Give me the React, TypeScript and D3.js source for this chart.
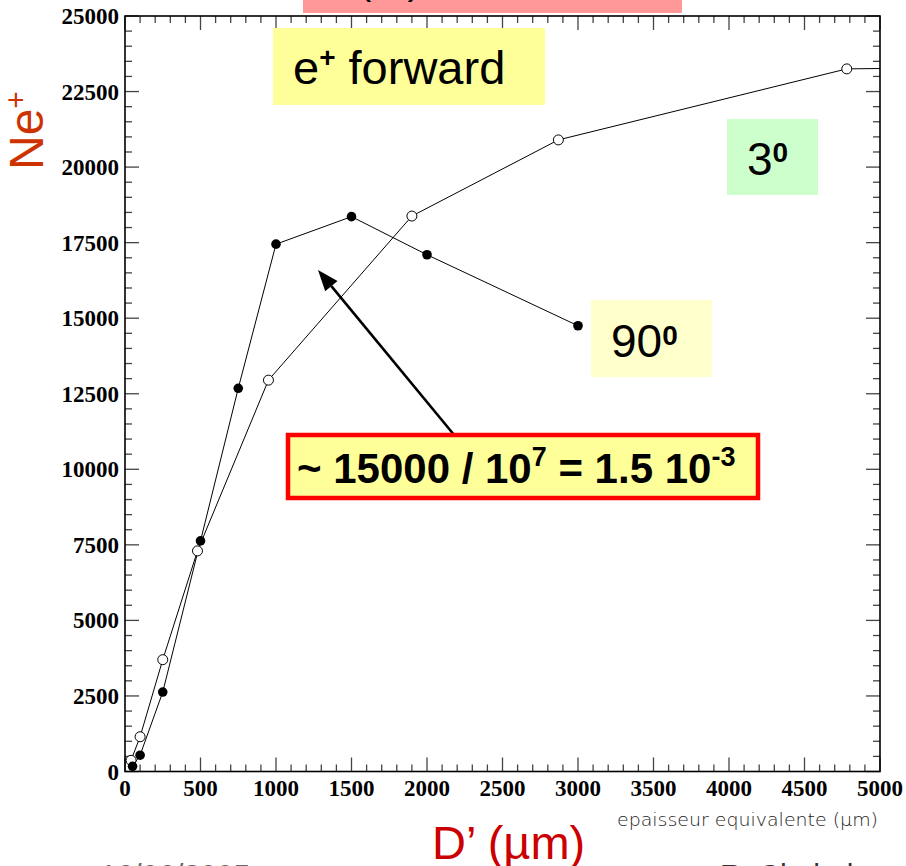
import React from "react";
import * as d3 from "d3";

// Thickness D' (µm) and positron yield Ne+ for the two angles
const thickness3: number[] = [40, 100, 250, 480, 950, 1900, 2870, 4780, 5500];
const yield3: number[] = [370, 1150, 3700, 7300, 12950, 18380, 20900, 23250, 23290];

const thickness90: number[] = [50, 100, 250, 500, 750, 1000, 1500, 2000, 3000];
const yield90: number[] = [170, 540, 2630, 7630, 12680, 17450, 18360, 17100, 14750];

const xMajorTicks: number[] = [0, 500, 1000, 1500, 2000, 2500, 3000, 3500, 4000, 4500, 5000];
const yMajorTicks: number[] = [0, 2500, 5000, 7500, 10000, 12500, 15000, 17500, 20000, 22500, 25000];

const W = 906;
const H = 866;
const plot = { left: 125, right: 880, top: 16, bottom: 771.5 };

export default function App() {
  const x = d3.scaleLinear().domain([0, 5000]).range([plot.left, plot.right]);
  const y = d3.scaleLinear().domain([0, 25000]).range([plot.bottom, plot.top]);

  const xMinor = d3.range(0, 5001, 100);
  const yMinor = d3.range(0, 25001, 500);

  const line = d3
    .line<[number, number]>()
    .x((d) => x(d[0]))
    .y((d) => y(d[1]));

  const pts3: [number, number][] = thickness3.map((t, i) => [t, yield3[i]]);
  const pts90: [number, number][] = thickness90.map((t, i) => [t, yield90[i]]);

  const tickColor = "#444";
  const serif = "'Liberation Serif', 'Times New Roman', serif";
  const sans = "'Liberation Sans', Arial, sans-serif";

  // annotation arrow
  const ax0 = 455, ay0 = 436, ax1 = 318, ay1 = 270;
  const ang = Math.atan2(ay1 - ay0, ax1 - ax0);
  const hl = 21, hw = 8;
  const bx = ax1 - hl * Math.cos(ang);
  const by = ay1 - hl * Math.sin(ang);
  const head = [
    [ax1, ay1],
    [bx + hw * Math.sin(ang), by - hw * Math.cos(ang)],
    [bx - hw * Math.sin(ang), by + hw * Math.cos(ang)],
  ]
    .map((p) => p.join(","))
    .join(" ");

  return (
    <svg
      width={W}
      height={H}
      style={{ position: "absolute", left: 0, top: 0, background: "#fff" }}
    >
      <defs>
        <clipPath id="plotClip">
          <rect
            x={plot.left}
            y={plot.top}
            width={plot.right - plot.left}
            height={plot.bottom - plot.top}
          />
        </clipPath>
      </defs>

      {/* title strip */}
      <rect x={303} y={-5} width={379} height={18} fill="#ff9999" />
      <text x={358} y={-6} fontFamily={sans} fontSize={40} fill="#000">
        (e⁺)
      </text>

      {/* minor / major ticks on all four sides */}
      <g stroke={tickColor} strokeWidth={1.3}>
        {xMinor.map((v) => {
          const major = v % 500 === 0;
          const len = major ? 14 : 7;
          return (
            <g key={"xt" + v}>
              <line x1={x(v)} x2={x(v)} y1={plot.bottom} y2={plot.bottom - len} />
              <line x1={x(v)} x2={x(v)} y1={plot.top} y2={plot.top + len} />
            </g>
          );
        })}
        {yMinor.map((v) => {
          const major = v % 2500 === 0;
          const len = major ? 14 : 7;
          return (
            <g key={"yt" + v}>
              <line x1={plot.left} x2={plot.left + len} y1={y(v)} y2={y(v)} />
              <line x1={plot.right} x2={plot.right - len} y1={y(v)} y2={y(v)} />
            </g>
          );
        })}
      </g>

      {/* frame */}
      <rect
        x={plot.left}
        y={plot.top}
        width={plot.right - plot.left}
        height={plot.bottom - plot.top}
        fill="none"
        stroke="#000"
        strokeWidth={1.6}
      />

      {/* tick labels */}
      <g fontFamily={serif} fontWeight="bold" fontSize={23} fill="#000">
        {xMajorTicks.map((v) => (
          <text key={"xl" + v} x={x(v)} y={796} textAnchor="middle">
            {v}
          </text>
        ))}
        {yMajorTicks.map((v) => (
          <text key={"yl" + v} x={119} y={y(v) + 8} textAnchor="end">
            {v}
          </text>
        ))}
      </g>

      {/* data */}
      <g clipPath="url(#plotClip)">
        <path d={line(pts3) ?? ""} fill="none" stroke="#000" strokeWidth={1} />
        <path d={line(pts90) ?? ""} fill="none" stroke="#000" strokeWidth={1} />
        {pts3.map((p, i) => (
          <circle
            key={"o" + i}
            cx={x(p[0])}
            cy={y(p[1])}
            r={5}
            fill="#fff"
            stroke="#000"
            strokeWidth={1}
          />
        ))}
        {pts90.map((p, i) => (
          <circle key={"f" + i} cx={x(p[0])} cy={y(p[1])} r={4.8} fill="#000" />
        ))}
      </g>

      {/* axis captions */}
      <text
        transform="translate(43,170) rotate(-90)"
        fontFamily={sans}
        fontSize={48}
        fill="#cc3300"
      >
        Ne
        <tspan fontSize={30} dy={-17}>
          +
        </tspan>
      </text>
      <text x={432} y={859} fontFamily={sans} fontSize={47} fill="#cc0000">
        D’ (µm)
      </text>
      <text
        x={617}
        y={826}
        fontFamily="'DejaVu Sans', sans-serif"
        fontWeight={200}
        fontSize={18}
        textLength={261}
        lengthAdjust="spacingAndGlyphs"
        fill="#222"
      >
        epaisseur equivalente (µm)
      </text>

      {/* footer */}
      <text x={100} y={885} fontFamily={sans} fontSize={30} fill="#666">
        16/06/2005
      </text>
      <text x={720} y={885} fontFamily={sans} fontSize={30} fill="#333">
        R. Chehab
      </text>

      {/* labels */}
      <rect x={273} y={28} width={272} height={77} fill="#ffff99" />
      <text x={293} y={84} fontFamily={sans} fontSize={47} fill="#000">
        e
        <tspan fontSize={28} dy={-17} fontWeight="bold">
          +
        </tspan>
        <tspan dy={17}> forward</tspan>
      </text>

      <rect x={727} y={119} width={91} height={76} fill="#ccffcc" />
      <text x={747} y={175} fontFamily={sans} fontSize={46} fill="#000">
        3
        <tspan fontSize={28} fontWeight="bold" dy={-13}>
          0
        </tspan>
      </text>

      <rect x={591} y={300} width={121} height={77} fill="#ffffcc" />
      <text x={611} y={357} fontFamily={sans} fontSize={46} fill="#000">
        90
        <tspan fontSize={28} fontWeight="bold" dy={-12}>
          0
        </tspan>
      </text>

      {/* arrow */}
      <line x1={ax0} y1={ay0} x2={bx} y2={by} stroke="#000" strokeWidth={2.6} />
      <polygon points={head} fill="#000" />

      {/* estimate box */}
      <rect
        x={288}
        y={435}
        width={470}
        height={63}
        fill="#ffff99"
        stroke="#ff0000"
        strokeWidth={4.5}
      />
      <text x={297} y={483} fontFamily={sans} fontWeight="bold" fontSize={42} fill="#000">
        ~ 15000 / 10
        <tspan fontSize={27} dy={-17}>
          7
        </tspan>
        <tspan dy={17}> = 1.5 10</tspan>
        <tspan fontSize={27} dy={-17}>
          -3
        </tspan>
      </text>
    </svg>
  );
}
